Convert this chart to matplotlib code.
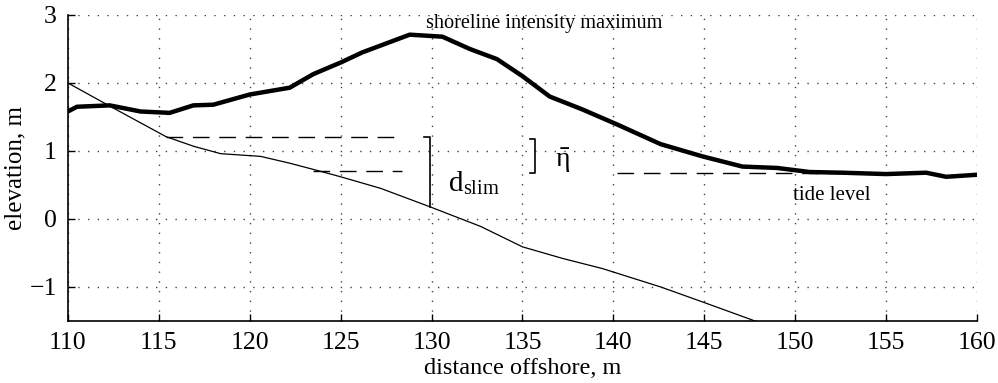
import matplotlib as mpl
import matplotlib.pyplot as plt

# --------------------------------------------------------------------------
# Data
# --------------------------------------------------------------------------
# thick line: shoreline intensity maximum
shore_x = [110.0, 110.5, 112.3, 114.0, 115.6, 116.9, 118.0, 120.0, 122.2, 123.5,
           125.0, 126.2, 128.1, 128.8, 130.6, 132.1, 133.6, 135.0, 136.5, 138.3,
           140.2, 142.6, 144.9, 147.1, 149.0, 150.8, 152.6, 155.0, 157.2, 158.3,
           160.0]
shore_z = [1.58, 1.65, 1.67, 1.58, 1.56, 1.67, 1.68, 1.83, 1.93, 2.13,
           2.30, 2.45, 2.64, 2.71, 2.68, 2.50, 2.35, 2.10, 1.80, 1.61,
           1.39, 1.10, 0.92, 0.77, 0.75, 0.69, 0.68, 0.66, 0.68, 0.62,
           0.65]

# thin line: beach profile
bed_x = [110.0, 112.3, 115.4, 116.9, 118.4, 120.6, 122.2, 123.9, 125.0, 127.2,
         129.9, 132.7, 135.0, 137.2, 139.4, 142.6, 144.9, 148.3]
bed_z = [2.00, 1.66, 1.21, 1.07, 0.96, 0.92, 0.82, 0.70, 0.62, 0.45,
         0.18, -0.11, -0.41, -0.58, -0.73, -1.00, -1.22, -1.55]

# reference levels (dashed)
runup_level = 1.21
setup_level = 0.70
tide_level = 0.68
runup_span = (115.4, 128.4)
setup_span = (123.5, 128.4)
tide_span = (140.2, 152.8)

# brackets
dslim_x, dslim_top, dslim_bot = 129.9, 1.21, 0.18
eta_x, eta_top, eta_bot = 135.7, 1.17, 0.68

x_ticks = [110, 115, 120, 125, 130, 135, 140, 145, 150, 155, 160]
y_ticks = [-1, 0, 1, 2, 3]

# --------------------------------------------------------------------------
mpl.rcParams.update({
    "font.family": ["Liberation Serif", "DejaVu Serif"],
    "mathtext.fontset": "stix",
    "font.size": 14,
})

fig = plt.figure(figsize=(9.98, 3.83), dpi=100)
ax = fig.add_axes([0.068, 0.162, 0.911, 0.799])

ax.plot(bed_x, bed_z, color="black", linewidth=0.9, zorder=3)
ax.plot(shore_x, shore_z, color="black", linewidth=3.2, zorder=4,
        solid_joinstyle="round", solid_capstyle="round")

dash = dict(color="black", linewidth=1.0, linestyle=(0, (12, 7)), zorder=3)
ax.plot(runup_span, [runup_level] * 2, **dash)
ax.plot(setup_span, [setup_level] * 2, **dash)
ax.plot(tide_span, [tide_level] * 2, **dash)

# d_slim bracket
ax.plot([dslim_x - 0.3, dslim_x, dslim_x], [dslim_top, dslim_top, dslim_bot],
        color="black", linewidth=1.2, zorder=5)
# eta bracket
ax.plot([eta_x - 0.3, eta_x, eta_x, eta_x - 0.3],
        [eta_top, eta_top, eta_bot, eta_bot],
        color="black", linewidth=1.2, zorder=5)

ax.text(130.9, 0.53, r"d$_{\mathregular{slim}}$", fontsize=21, ha="left",
        va="center")
ax.text(137.2, 0.86, r"$\bar{\mathregular{\eta}}$", fontsize=20, ha="center",
        va="center")
ax.text(136.2, 2.88, "shoreline intensity maximum", fontsize=14.6,
        ha="center", va="center")
ax.text(152.0, 0.35, "tide level", fontsize=15, ha="center", va="center")

ax.set_xlim(110, 160)
ax.set_ylim(-1.5, 3)
ax.set_xticks(x_ticks)
ax.set_yticks(y_ticks)
ax.tick_params(direction="in", length=5, width=1.0, labelsize=18.5, pad=8,
               colors="black")
ax.set_xlabel("distance offshore, m", fontsize=17.5, labelpad=3)
ax.set_ylabel("elevation, m", fontsize=18, labelpad=2)

ax.grid(True, color="#444444", linestyle=(0, (1, 6)), linewidth=1.0)
ax.spines["top"].set_visible(False)
ax.spines["right"].set_visible(False)
for s in ("left", "bottom"):
    ax.spines[s].set_linewidth(1.2)

fig.savefig("out.png", dpi=100)
